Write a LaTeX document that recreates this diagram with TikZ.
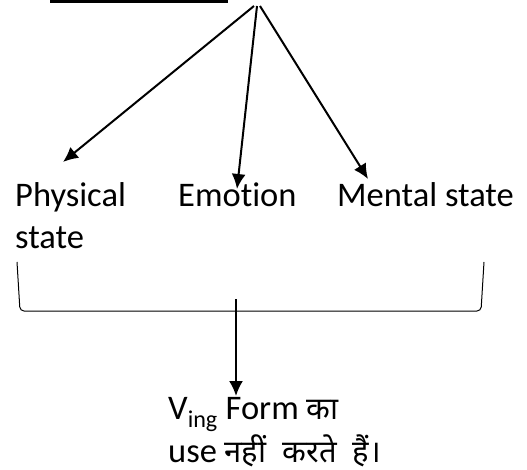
\documentclass[tikz,border=0pt]{standalone}
\usepackage{fontspec}
\setmainfont[Ligatures=NoCommon]{Carlito}
\newfontfamily\hindifont[Script=Devanagari]{Noto Sans}
\usetikzlibrary{positioning, arrows.meta}

\begin{document}
\begin{tikzpicture}[x=1pt, y=-1pt, font=\fontsize{34.5}{41}\selectfont,
	word/.style={inner sep=0pt, anchor=base west, align=left},
	link/.style={line width=2pt, -{Latex[length=15pt, width=14pt]}}]
			
			\useasboundingbox (0,0) rectangle (527,470);
			
			%Nodes
			\coordinate (apex) at (257,6);
			\coordinate (underlineStart) at (50,2);
			\coordinate (underlineEnd) at (228,2);
			
			\node (physicalState) at (15,248) [word] {Physical\\state};
			\node (emotion) at (178,207) [word] {Emotion};
			\node (mentalState) at (337,207) [word] {Mental state};
			\node (vingForm) at (168,462) [word] {V\textsubscript{ing} Form {\hindifont\fontsize{31}{41}\selectfont का}\\[2pt]use {\hindifont\fontsize{31}{41}\selectfont नहीं~ करते~ हैं।}};
			
			\coordinate (physicalTip) at (63,162);
			\coordinate (emotionTip) at (237,189);
			\coordinate (mentalTip) at (368,179);
			
			\coordinate (braceLeft) at (17,262);
			\coordinate (braceRight) at (484,262);
			\coordinate (stemTop) at (236,299);
			\coordinate (vingTip) at (236,396);
			
			%Links
			\draw [line width=3pt] (underlineStart) -- (underlineEnd);
			\draw [link] ([xshift=-3pt]apex) -- (physicalTip);
			\draw [link] (apex) -- (emotionTip);
			\draw [link] ([xshift=3pt]apex) -- (mentalTip);
			\draw [line width=1pt, rounded corners=4pt] (braceLeft) -- (20,311) -- (481,311) -- (braceRight);
			\draw [link] (stemTop) -- (vingTip);
			
			\end{tikzpicture}
\end{document}
